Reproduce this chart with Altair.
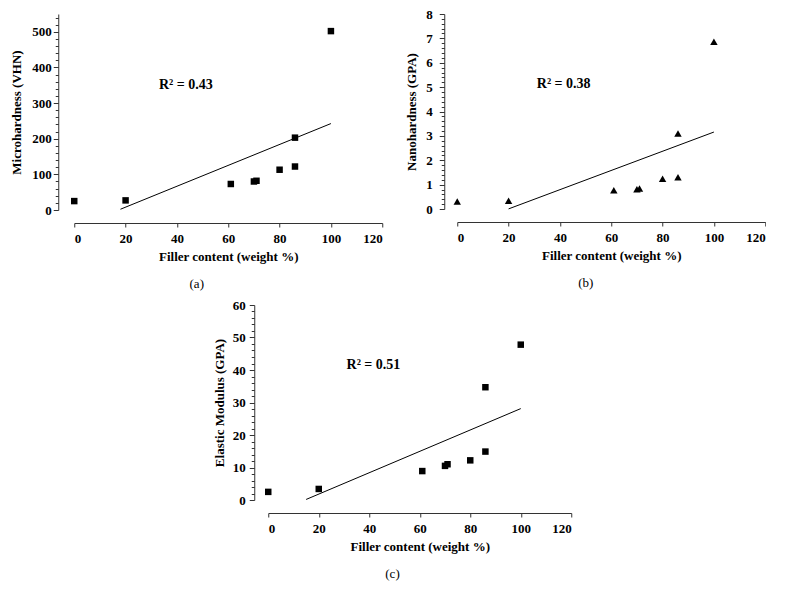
import altair as alt
import pandas as pd

filler = [0, 20, 61, 70, 71, 80, 86, 86, 100]
micro = [25, 27, 73, 80, 82, 113, 122, 203, 502]
nano = [0.31, 0.34, 0.77, 0.81, 0.84, 1.24, 1.30, 3.10, 6.86]
elastic = [2.5, 3.4, 8.9, 10.5, 11.0, 12.2, 14.9, 34.7, 47.8]

x_ticks = [0, 20, 40, 60, 80, 100, 120]
r2_labels = ["R² = 0.43", "R² = 0.38", "R² = 0.51"]
r2_x = [33, 31, 31]
r2_y = [350, 5.14, 41.5]
captions = ["(a)", "(b)", "(c)"]

FONT = "Liberation Serif"


def panel(yvals, ytitle, ymax, major, minor, shape, msize, extent, idx, w, h,
          yoff, lpad, tpad):
    df = pd.DataFrame({"x": filler, "y": yvals})
    n = int(round(ymax / minor))
    yticks = [round(i * minor, 4) for i in range(n + 1)]
    test = f"abs(datum.value/{major} - round(datum.value/{major})) < 1e-6"
    xs = alt.Scale(domain=[0, 120], nice=False, zero=False)
    ys = alt.Scale(domain=[0, ymax], nice=False)
    xaxis = alt.Axis(values=x_ticks, offset=13, grid=False, tickSize=4,
                     labelExpr="format(datum.value, 'd')",
                     title="Filler content (weight %)", labelPadding=5,
                     titlePadding=5, labelOverlap=False, tickCount=200)
    yaxis = alt.Axis(values=yticks, offset=yoff, grid=False, labelOverlap=False,
                     tickCount=500,
                     labelExpr=f"{test} ? format(round(datum.value), 'd') : ''",
                     tickSize={"condition": {"test": test, "value": 5}, "value": 3},
                     title=ytitle, labelPadding=lpad, titlePadding=tpad)
    pts = alt.Chart(df).mark_point(shape=shape, filled=True, color="black",
                                   size=msize, opacity=1).encode(
        x=alt.X("x:Q", scale=xs, axis=xaxis),
        y=alt.Y("y:Q", scale=ys, axis=yaxis),
    )
    reg = alt.Chart(df).transform_regression("x", "y", extent=extent).mark_line(
        color="black", strokeWidth=1).encode(x=alt.X("x:Q", scale=xs, axis=xaxis),
                                             y=alt.Y("y:Q", scale=ys, axis=yaxis))
    tdf = pd.DataFrame({"x": [r2_x[idx]], "y": [r2_y[idx]], "t": [r2_labels[idx]]})
    txt = alt.Chart(tdf).mark_text(align="left", baseline="middle", font=FONT,
                                   fontWeight="bold", fontSize=14, color="black").encode(
        x=alt.X("x:Q", scale=xs, axis=xaxis), y=alt.Y("y:Q", scale=ys, axis=yaxis),
        text="t:N")
    return alt.layer(reg, pts, txt).properties(
        width=w, height=h,
        title=alt.TitleParams(captions[idx], orient="bottom", anchor="middle",
                              frame="bounds", font=FONT, fontSize=13,
                              fontWeight="normal", color="black", offset=15),
    )


a = panel(micro, "Microhardness (VHN)", 550, 100, 20, "square", 42, [18, 100], 0,
          308, 196, 16, 2, 8)
b = panel(nano, "Nanohardness (GPA)", 8, 1, 0.2, "triangle-up", 55, [20, 100], 1,
          308, 195, 13, 7, 7)
c = panel(elastic, "Elastic Modulus (GPA)", 60, 10, 2, "square", 42, [15, 100], 2,
          303, 195, 14, 4, 6)

top = alt.hconcat(a, b, spacing=22)
chart = alt.vconcat(top, c, spacing=8, center=True).properties(
    padding={"left": 2, "top": 0, "right": 0, "bottom": 0}
).configure_view(stroke=None).configure_axis(
    domainColor="#333", tickColor="#333", labelColor="black", titleColor="black",
    labelFont=FONT, titleFont=FONT, labelFontWeight="bold", titleFontWeight="bold",
    labelFontSize=13, titleFontSize=13,
)

chart.save("out.html", embed_options={"renderer": "svg", "actions": False})
